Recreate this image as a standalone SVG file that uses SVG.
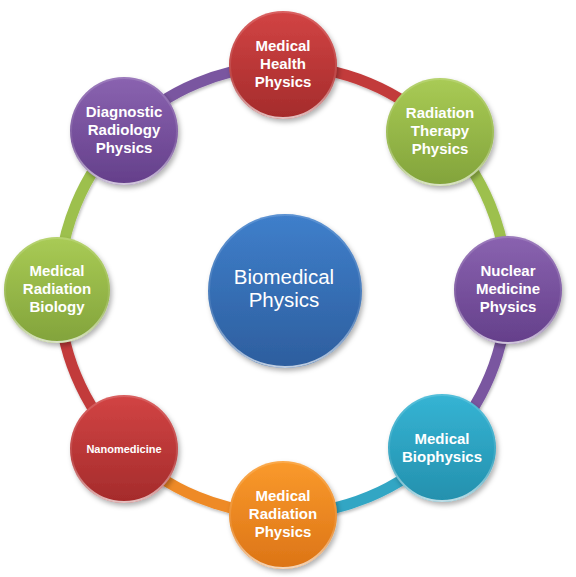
<svg xmlns="http://www.w3.org/2000/svg" width="576" height="577" viewBox="0 0 576 577">
<defs>
<linearGradient id="gRed" x1="0" y1="0" x2="0" y2="1"><stop offset="0" stop-color="#D24444"/><stop offset="1" stop-color="#A42B2B"/></linearGradient>
<linearGradient id="gGreen" x1="0" y1="0" x2="0" y2="1"><stop offset="0" stop-color="#A9CB55"/><stop offset="1" stop-color="#82A33B"/></linearGradient>
<linearGradient id="gPurple" x1="0" y1="0" x2="0" y2="1"><stop offset="0" stop-color="#8A63B0"/><stop offset="1" stop-color="#643F8A"/></linearGradient>
<linearGradient id="gCyan" x1="0" y1="0" x2="0" y2="1"><stop offset="0" stop-color="#35B4D4"/><stop offset="1" stop-color="#2490AD"/></linearGradient>
<linearGradient id="gOrange" x1="0" y1="0" x2="0" y2="1"><stop offset="0" stop-color="#FA9A2C"/><stop offset="1" stop-color="#DC7416"/></linearGradient>
<linearGradient id="gBlue" x1="0" y1="0" x2="0" y2="1"><stop offset="0" stop-color="#3F7FCB"/><stop offset="1" stop-color="#2D5E9E"/></linearGradient>
<linearGradient id="rim" x1="0" y1="0" x2="0" y2="1"><stop offset="0" stop-color="#fff" stop-opacity="0.15"/><stop offset="0.6" stop-color="#fff" stop-opacity="0.1"/><stop offset="1" stop-color="#fff" stop-opacity="0.7"/></linearGradient>
<filter id="sh" x="-20%" y="-20%" width="150%" height="150%"><feDropShadow dx="2" dy="3" stdDeviation="2.5" flood-color="#000" flood-opacity="0.3"/></filter>
<filter id="shl" x="-10%" y="-10%" width="120%" height="120%"><feDropShadow dx="1" dy="2" stdDeviation="1.5" flood-color="#000" flood-opacity="0.25"/></filter>
</defs>
<style>
.seg{fill:none;stroke-width:11;stroke-linecap:butt;filter:url(#shl)}
.node circle.b{filter:url(#sh)}
.node circle.r{fill:none;stroke:url(#rim);stroke-width:2}
.t{font-family:"Liberation Sans",Arial,sans-serif;font-weight:bold;font-size:15px;fill:#fff;text-anchor:middle}
.c{font-family:"Liberation Sans",Arial,sans-serif;font-size:20.5px;fill:#fff;text-anchor:middle}
</style>
<rect width="576" height="577" fill="#fff"/>
<g id="connectors">
<path class="seg" stroke="#C23B3B" d="M283 66 A224 224 0 0 1 441.39 131.61"/>
<path class="seg" stroke="#9DC04E" d="M441.39 131.61 A224 224 0 0 1 507 290"/>
<path class="seg" stroke="#7A56A0" d="M507 290 A224 224 0 0 1 441.39 448.39"/>
<path class="seg" stroke="#31A6C4" d="M441.39 448.39 A224 224 0 0 1 283 514"/>
<path class="seg" stroke="#EE8A26" d="M283 514 A224 224 0 0 1 124.61 448.39"/>
<path class="seg" stroke="#C23B3B" d="M124.61 448.39 A224 224 0 0 1 59 290"/>
<path class="seg" stroke="#9DC04E" d="M59 290 A224 224 0 0 1 124.61 131.61"/>
<path class="seg" stroke="#7A56A0" d="M124.61 131.61 A224 224 0 0 1 283 66"/>
</g>
<g id="center" class="node">
<circle class="b" cx="285" cy="291" r="77" fill="url(#gBlue)"/>
<circle class="r" cx="285" cy="291" r="76"/>
<text class="c" x="284" y="284">Biomedical</text>
<text class="c" x="284" y="307">Physics</text>
</g>
<g id="health" class="node">
<circle class="b" cx="283" cy="65" r="54" fill="url(#gRed)"/>
<circle class="r" cx="283" cy="65" r="53"/>
<text class="t" x="283" y="51">Medical</text>
<text class="t" x="283" y="69">Health</text>
<text class="t" x="283" y="87">Physics</text>
</g>
<g id="therapy" class="node">
<circle class="b" cx="440" cy="132" r="54" fill="url(#gGreen)"/>
<circle class="r" cx="440" cy="132" r="53"/>
<text class="t" x="440" y="118">Radiation</text>
<text class="t" x="440" y="136">Therapy</text>
<text class="t" x="440" y="154">Physics</text>
</g>
<g id="nuclear" class="node">
<circle class="b" cx="508" cy="290" r="54" fill="url(#gPurple)"/>
<circle class="r" cx="508" cy="290" r="53"/>
<text class="t" x="508" y="276">Nuclear</text>
<text class="t" x="508" y="294">Medicine</text>
<text class="t" x="508" y="312">Physics</text>
</g>
<g id="biophysics" class="node">
<circle class="b" cx="442" cy="448" r="54" fill="url(#gCyan)"/>
<circle class="r" cx="442" cy="448" r="53"/>
<text class="t" x="442" y="444">Medical</text>
<text class="t" x="442" y="462">Biophysics</text>
</g>
<g id="radphysics" class="node">
<circle class="b" cx="283" cy="515" r="54" fill="url(#gOrange)"/>
<circle class="r" cx="283" cy="515" r="53"/>
<text class="t" x="283" y="501">Medical</text>
<text class="t" x="283" y="519">Radiation</text>
<text class="t" x="283" y="537">Physics</text>
</g>
<g id="nano" class="node">
<circle class="b" cx="124" cy="449" r="54" fill="url(#gRed)"/>
<circle class="r" cx="124" cy="449" r="53"/>
<text class="t" x="124" y="453" style="font-size:11px">Nanomedicine</text>
</g>
<g id="biology" class="node">
<circle class="b" cx="57" cy="290" r="53" fill="url(#gGreen)"/>
<circle class="r" cx="57" cy="290" r="52"/>
<text class="t" x="57" y="276">Medical</text>
<text class="t" x="57" y="294">Radiation</text>
<text class="t" x="57" y="312">Biology</text>
</g>
<g id="diagnostic" class="node">
<circle class="b" cx="124" cy="131" r="54" fill="url(#gPurple)"/>
<circle class="r" cx="124" cy="131" r="53"/>
<text class="t" x="124" y="117">Diagnostic</text>
<text class="t" x="124" y="135">Radiology</text>
<text class="t" x="124" y="153">Physics</text>
</g>
</svg>
